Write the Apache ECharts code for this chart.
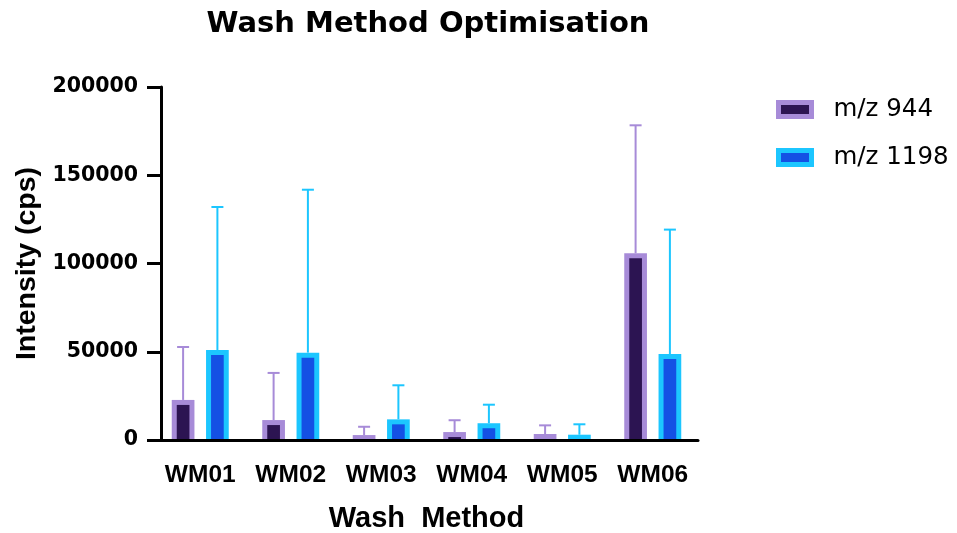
<!DOCTYPE html>
<html>
<head>
<meta charset="utf-8">
<script src="https://cdn.jsdelivr.net/npm/echarts@6/dist/echarts.min.js"></script>
<style>
  html, body { margin: 0; padding: 0; background: #ffffff; }
  #chart { width: 957px; height: 533px; }
</style>
</head>
<body>
<div id="chart"></div>
<script>
// Wash method categories
const categories = ['WM01', 'WM02', 'WM03', 'WM04', 'WM05', 'WM06'];

// Mean intensity (cps) and standard deviation per wash method
const mz944Mean = [22700, 11300, 2800, 4500, 3400, 105800];
const mz944SD   = [30000, 26700, 4700, 6700, 4900, 72500];
const mz1198Mean = [51000, 49500, 11700, 9500, 3000, 48700];
const mz1198SD   = [81000, 92300, 19300, 10500, 5900, 70500];

// Y axis range
const yMin = 0;
const yMax = 200000;
const yStep = 50000;

const purpleEdge = '#a78bd8';
const purpleFill = '#2c1452';
const cyanEdge = '#1cc6ff';
const blueFill = '#1450e4';

const BAR_W = 22.7;      // outer bar width, px
const BAR_EDGE = 5;      // outline thickness, px
const BAR_OFFSET = 17.15; // distance of each bar centre from the category centre

// Bar with a thick outline on left, top and right, plus an upward SD whisker
function barSeries(name, means, sds, edge, fill, offset) {
  return {
    type: 'custom',
    name: name,
    z: 3,
    data: means.map((m, i) => [i, m, m + sds[i]]),
    encode: { x: 0, y: [1, 2] },
    itemStyle: { color: fill, borderColor: edge, borderWidth: BAR_EDGE },
    renderItem: function (params, api) {
      const base = api.coord([api.value(0), 0]);
      const top = api.coord([api.value(0), api.value(1)]);
      const whisker = api.coord([api.value(0), api.value(2)]);
      const cx = base[0] + offset;
      const x0 = cx - BAR_W / 2;
      const h = base[1] - top[1];
      const innerH = Math.max(0, h - BAR_EDGE);
      return {
        type: 'group',
        children: [
          { type: 'line', shape: { x1: cx, y1: top[1], x2: cx, y2: whisker[1] },
            style: { stroke: edge, lineWidth: 2 } },
          { type: 'line', shape: { x1: cx - 6, y1: whisker[1], x2: cx + 6, y2: whisker[1] },
            style: { stroke: edge, lineWidth: 2 } },
          { type: 'rect', shape: { x: x0, y: top[1], width: BAR_W, height: h },
            style: { fill: edge } },
          { type: 'rect', shape: { x: x0 + BAR_EDGE, y: top[1] + BAR_EDGE, width: BAR_W - 2 * BAR_EDGE, height: innerH },
            style: { fill: fill } }
        ]
      };
    }
  };
}

const chart = echarts.init(document.getElementById('chart'));
chart.setOption({
  animation: false,
  backgroundColor: '#ffffff',
  title: {
    text: 'Wash Method Optimisation',
    left: 423,
    top: 5,
    textAlign: 'center',
    textStyle: { fontFamily: 'DejaVu Sans', fontWeight: 'bold', fontSize: 29, color: '#000' }
  },
  legend: {
    orient: 'vertical',
    left: 776,
    top: 97,
    padding: 0,
    itemWidth: 33,
    itemHeight: 14,
    itemGap: 23,
    textStyle: { fontFamily: 'DejaVu Sans', fontSize: 24.5, color: '#000', padding: [0, 0, 0, 17] },
    data: [
      { name: 'm/z 944', icon: 'rect', itemStyle: { color: purpleFill, borderColor: purpleEdge, borderWidth: 5 } },
      { name: 'm/z 1198', icon: 'rect', itemStyle: { color: blueFill, borderColor: cyanEdge, borderWidth: 5 } }
    ]
  },
  grid: { left: 155, width: 543, top: 87, height: 353, containLabel: false, outerBoundsMode: 'none' },
  xAxis: {
    type: 'category',
    data: categories,
    z: 10,
    name: 'Wash  Method',
    nameLocation: 'middle',
    nameGap: 64,
    nameTextStyle: { fontFamily: 'Liberation Sans', fontWeight: 'bold', fontSize: 29, color: '#000' },
    axisLine: { lineStyle: { color: '#000', width: 3 } },
    axisTick: { alignWithLabel: true, length: 20, lineStyle: { color: '#000', width: 3 } },
    axisLabel: { margin: 23, interval: 0, fontFamily: 'Liberation Sans', fontWeight: 'bold', fontSize: 24.5, color: '#000' },
    splitLine: { show: false }
  },
  yAxis: {
    type: 'value',
    min: yMin,
    max: yMax,
    interval: yStep,
    offset: -6,
    z: 10,
    name: 'Intensity (cps)',
    nameLocation: 'middle',
    nameGap: 115,
    nameTextStyle: { fontFamily: 'Liberation Sans', fontWeight: 'bold', fontSize: 28.5, color: '#000' },
    axisLine: { show: true, lineStyle: { color: '#000', width: 3 } },
    axisTick: { show: true, length: 14, lineStyle: { color: '#000', width: 3 } },
    axisLabel: {
      margin: 23, fontFamily: 'DejaVu Sans', fontWeight: 'bold', fontSize: 20.5, color: '#000',
      formatter: function (v) { return String(v); }
    },
    splitLine: { show: false }
  },
  series: [
    barSeries('m/z 944', mz944Mean, mz944SD, purpleEdge, purpleFill, -BAR_OFFSET),
    barSeries('m/z 1198', mz1198Mean, mz1198SD, cyanEdge, blueFill, BAR_OFFSET)
  ]
});
</script>
</body>
</html>
